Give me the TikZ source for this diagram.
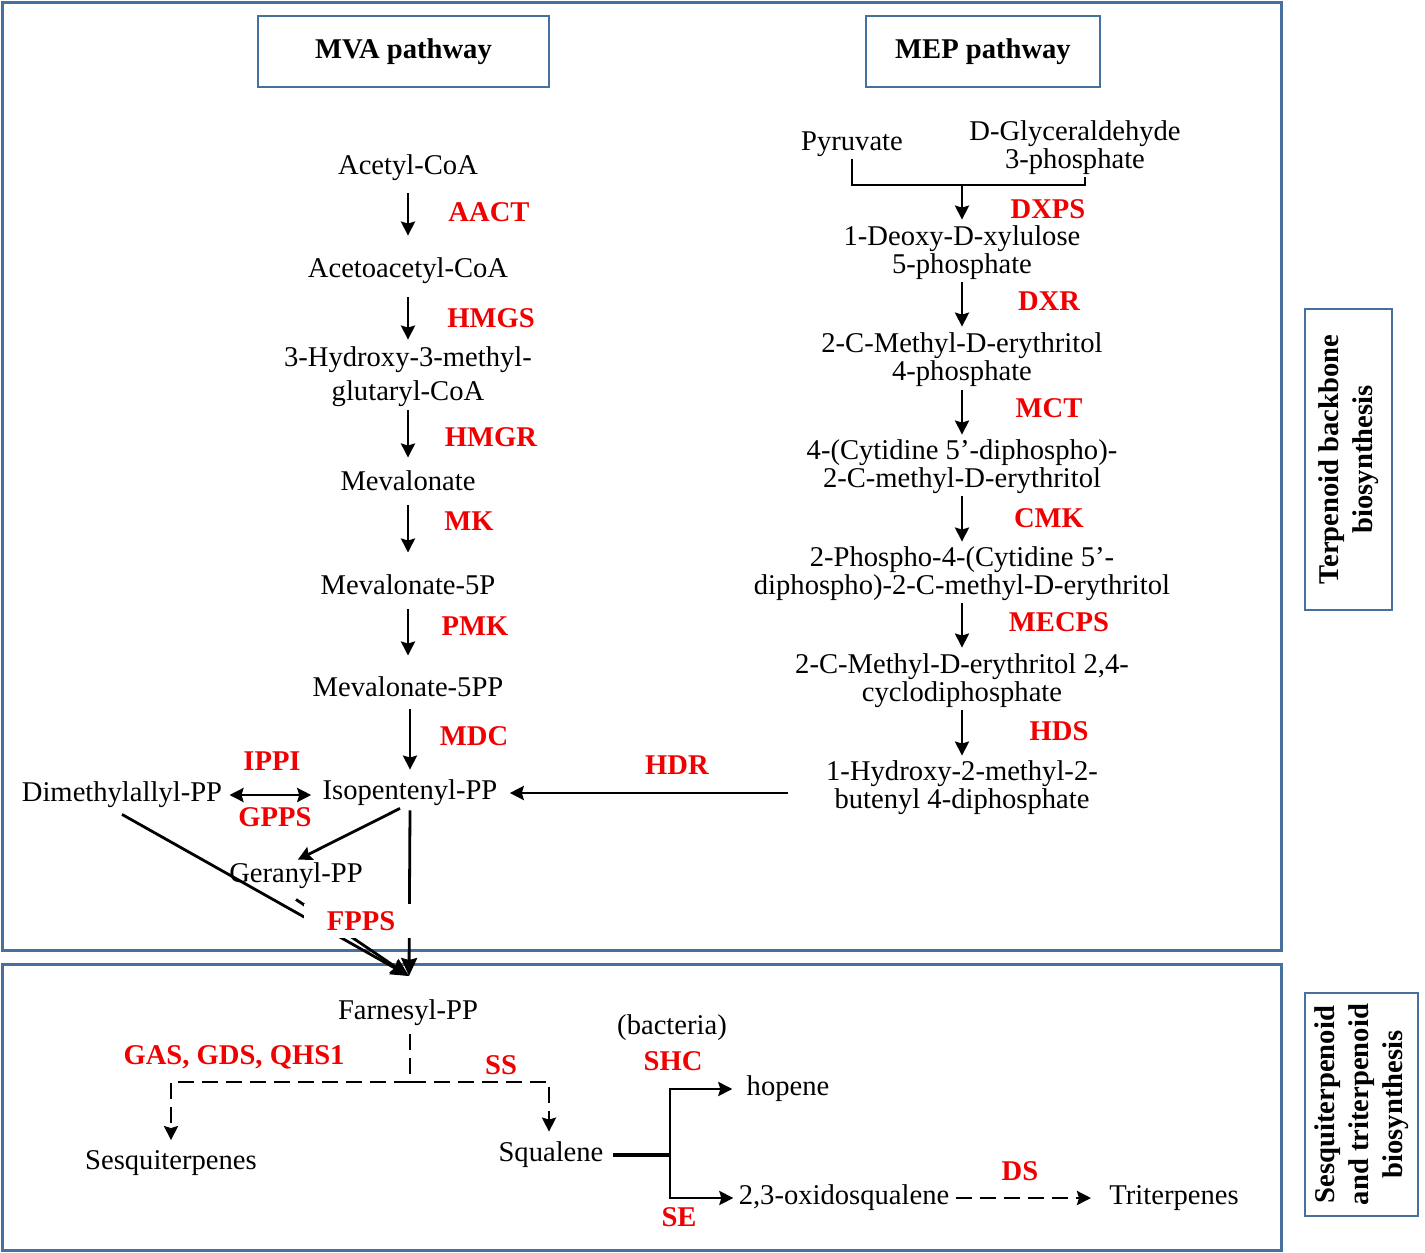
\documentclass[tikz,border=0pt]{standalone}
\usepackage{fontspec}
\setmainfont{Liberation Serif}
\usetikzlibrary{arrows.meta}
\definecolor{frameblue}{RGB}{72,112,158}
\definecolor{enzred}{RGB}{240,0,0}
\tikzset{
  cpd/.style={align=center, inner sep=1pt, yshift=-1.5pt, font=\fontsize{14.3}{14}\selectfont},
  enz/.style={inner sep=1pt, text=enzred, font=\fontsize{14.3}{14}\selectfont\bfseries},
  stk/.tip={Stealth[length=7pt,width=7pt,inset=1pt]},
  tip/.style={-stk, line width=1.4pt},
  dashln/.style={line width=1.4pt, dash pattern=on 8pt off 4pt},
  titlebox/.style={draw=frameblue, line width=1pt, minimum height=35.5pt, font=\fontsize{14.3}{14}\selectfont\bfseries},
  sidebox/.style={draw=frameblue, line width=1pt, rotate=90, align=center, font=\fontsize{14.3}{17}\selectfont\bfseries},
}
\begin{document}
\begin{tikzpicture}[x=0.5pt,y=-0.5pt]
\useasboundingbox (0,0) rectangle (1425,1253);
\draw[frameblue, line width=1.5pt] (2,2) rectangle (1281,950);
\draw[frameblue, line width=1.5pt] (2,964) rectangle (1281,1250);

\node[titlebox, minimum width=145.5pt] (mvabox) at (403.5,51.5) {MVA pathway};
\node[titlebox, minimum width=117pt] (mepbox) at (983,51.5) {MEP pathway};
\node[sidebox, minimum width=150.5pt, minimum height=43.5pt] (backbone) at (1348.5,459.5) {Terpenoid backbone\\biosynthesis};
\node[sidebox, minimum width=111.5pt, minimum height=56.5pt] (sesqtri) at (1361.5,1104.5) {Sesquiterpenoid\\and triterpenoid\\biosynthesis};

% MVA pathway
\node[cpd] (acoa) at (408,165) {Acetyl-CoA};
\node[cpd] (aacoa) at (408,268) {Acetoacetyl-CoA};
\node[cpd, font=\fontsize{14.3}{17}\selectfont] (hmgcoa) at (408,374) {3-Hydroxy-3-methyl-\\glutaryl-CoA};
\node[cpd] (mev) at (408,478) {Mevalonate};
\node[cpd] (mevp) at (408,582) {Mevalonate-5P};
\node[cpd] (mevpp) at (408,684) {Mevalonate-5PP};
\node[cpd] (ipp) at (410,790) {Isopentenyl-PP};
\node[cpd] (dmapp) at (122,792) {Dimethylallyl-PP};
\node[cpd] (gpp) at (296,873) {Geranyl-PP};

\node[enz] (aact) at (489,212) {AACT};
\node[enz] (hmgs) at (491,318) {HMGS};
\node[enz] (hmgr) at (491,437) {HMGR};
\node[enz] (mk) at (469,521) {MK};
\node[enz] (pmk) at (475,626) {PMK};
\node[enz] (mdc) at (474,736) {MDC};
\node[enz] (ippi) at (272,761) {IPPI};
\node[enz] (gpps) at (275,817) {GPPS};

\draw[tip, shorten <=5pt, shorten >=10pt] (acoa) -- (aacoa);
\draw[tip, shorten <=5.5pt, shorten >=2.5pt] (aacoa) -- (hmgcoa);
\draw[tip, shorten <=0.5pt, shorten >=5.5pt] (hmgcoa) -- (mev);
\draw[tip, shorten <=6pt, shorten >=10pt] (mev) -- (mevp);
\draw[tip, shorten <=6pt, shorten >=9.5pt] (mevp) -- (mevpp);
\draw[tip, shorten <=5pt, shorten >=4pt] ([xshift=1pt]mevpp.south) -- (ipp);
\draw[stk-stk, line width=1.4pt, shorten <=2.5pt, shorten >=4.5pt] (dmapp.east) -- (dmapp.east -| ipp.west);
\draw[tip, shorten >=1pt] ([xshift=-5pt]ipp.south) -- (gpp.north);

% MEP pathway
\node[cpd] (pyr) at (852,141) {Pyruvate};
\node[cpd] (g3p) at (1075,145) {D-Glyceraldehyde\\3-phosphate};
\coordinate (join) at (962,185);
\node[cpd] (dxp) at (962,250) {1-Deoxy-D-xylulose\\5-phosphate};
\node[cpd] (mep4p) at (962,357) {2-C-Methyl-D-erythritol\\4-phosphate};
\node[cpd] (cdpme) at (962,464) {4-(Cytidine 5’-diphospho)-\\2-C-methyl-D-erythritol};
\node[cpd] (cdpmep) at (962,571) {2-Phospho-4-(Cytidine 5’-\\diphospho)-2-C-methyl-D-erythritol};
\node[cpd] (mecpp) at (962,678) {2-C-Methyl-D-erythritol 2,4-\\cyclodiphosphate};
\node[cpd] (hmbpp) at (962,785) {1-Hydroxy-2-methyl-2-\\butenyl 4-diphosphate};

\node[enz] (dxps) at (1048,209) {DXPS};
\node[enz] (dxr) at (1049,301) {DXR};
\node[enz] (mct) at (1049,408) {MCT};
\node[enz] (cmk) at (1049,518) {CMK};
\node[enz] (mecps) at (1059,622) {MECPS};
\node[enz] (hds) at (1059,731) {HDS};
\node[enz] (hdr) at (677,765) {HDR};

\draw[line width=1.4pt] (pyr.south) |- (join) -| ([xshift=5pt]g3p.south);
\draw[tip, shorten >=2pt] (join) -- (dxp);
\draw[tip, shorten <=0pt, shorten >=2pt] (dxp) -- (mep4p);
\draw[tip, shorten <=0.5pt, shorten >=1.5pt] (mep4p) -- (cdpme);
\draw[tip, shorten <=0pt, shorten >=1.5pt] (cdpme) -- (cdpmep);
\draw[tip, shorten <=0pt, shorten >=2pt] (cdpmep) -- (mecpp);
\draw[tip, shorten <=0pt, shorten >=1.5pt] (mecpp) -- (hmbpp);
\draw[tip, shorten <=18pt, shorten >=5pt] (hmbpp.west |- ipp.east) -- (ipp.east);

% towards farnesyl-PP
\coordinate (fppin) at (409,976);
\draw[line width=1.4pt, -{Stealth[length=9pt,width=8pt,inset=1pt]}] ([yshift=-2pt]dmapp.south) -- (fppin);
\draw[line width=1.4pt, -{Stealth[length=9pt,width=8pt,inset=1pt]}] ([yshift=-4pt]gpp.south) -- (fppin);
\draw[line width=1.4pt, -{Stealth[length=9pt,width=8pt,inset=1pt]}] ([yshift=-1pt]ipp.south) -- (fppin);
\node[enz, fill=white, minimum width=57.5pt, minimum height=17pt] (fpps) at (361,921) {FPPS};

% sesquiterpenoid and triterpenoid branch
\node[cpd] (fpp) at (408,1010) {Farnesyl-PP};
\node[cpd] (sesq) at (171,1160) {Sesquiterpenes};
\node[cpd] (squal) at (551,1152) {Squalene};
\node[cpd] (bact) at (672,1025) {(bacteria)};
\node[cpd] (hopene) at (788,1086) {hopene};
\node[cpd] (oxsq) at (844,1195) {2,3-oxidosqualene};
\node[cpd] (triterp) at (1174,1195) {Triterpenes};

\node[enz] (gas) at (234,1057) {GAS, GDS, QHS1};
\node[enz] (ss) at (501,1065) {SS};
\node[enz] (shc) at (673,1061) {SHC};
\node[enz] (se) at (679,1217) {SE};
\node[enz] (ds) at (1020,1171) {DS};

\coordinate (fork) at (410,1082);
\coordinate (sqbr) at (670,1155);
\draw[dashln, shorten <=3pt] ([xshift=1pt]fpp.south) -- (fork);
\draw[dashln, tip, shorten >=4pt] (fork) -| (sesq);
\draw[dashln, tip, shorten >=4pt] (fork) -| ([xshift=-1pt]squal.north);
\draw[line width=2.4pt, shorten <=3.5pt] (squal.east) -- (sqbr);
\draw[tip, shorten >=6pt] (sqbr) |- (hopene);
\draw[tip, shorten >=1.5pt] (sqbr) |- (oxsq);
\draw[dashln, tip, shorten <=2pt, shorten >=8pt] (oxsq) -- (triterp);
\end{tikzpicture}
\end{document}
